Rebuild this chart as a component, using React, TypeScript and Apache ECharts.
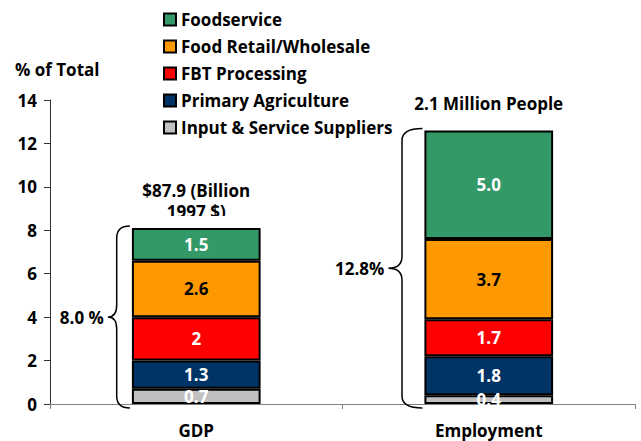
import React, { useEffect, useRef } from "react";
import * as echarts from "echarts";

const categories = ["GDP", "Employment"];
const inputSuppliers = [0.7, 0.4];
const primaryAgriculture = [1.3, 1.8];
const fbtProcessing = [2, 1.7];
const foodRetail = [2.6, 3.7];
const foodservice = [1.5, 5.0];

const inputLabels = ["0.7", "0.4"];
const primaryLabels = ["1.3", "1.8"];
const fbtLabels = ["2", "1.7"];
const retailLabels = ["2.6", "3.7"];
const foodserviceLabels = ["1.5", "5.0"];

const totalLabels = ["8.0 %", "12.8%"];
const notes = ["$87.9 (Billion\n1997 $)", "2.1 Million People"];
const yTicks = [0, 2, 4, 6, 8, 10, 12, 14];

const FONT = "'Open Sans', Lato, sans-serif";
const FS = 17;

echarts.graphic.registerShape(
  "brace",
  echarts.graphic.extendShape({
    shape: { x: 0, top: 0, bottom: 0, w: 20, r: 12 },
    buildPath(ctx: any, s: any) {
      const xr = s.x;
      const xm = s.x - s.w * 0.6;
      const tip = s.x - s.w;
      const mid = (s.top + s.bottom) / 2;
      const r = s.r;
      ctx.moveTo(xr, s.top);
      ctx.quadraticCurveTo(xm, s.top, xm, s.top + r);
      ctx.lineTo(xm, mid - r);
      ctx.quadraticCurveTo(xm, mid, tip, mid);
      ctx.quadraticCurveTo(xm, mid, xm, mid + r);
      ctx.lineTo(xm, s.bottom - r);
      ctx.quadraticCurveTo(xm, s.bottom, xr, s.bottom);
    },
  }) as any
);

function mkSeries(name: string, data: number[], labels: string[], color: string, labelColor: string) {
  return {
    name,
    type: "bar",
    stack: "total",
    data,
    barWidth: "44%",
    itemStyle: { color, borderColor: "#000", borderWidth: 2 },
    label: {
      show: true,
      position: "inside",
      color: labelColor,
      fontFamily: FONT,
      fontWeight: "bold",
      fontSize: 17,
      formatter: (p: any) => labels[p.dataIndex],
    },
  };
}

export default function App() {
  const ref = useRef<HTMLDivElement>(null);
  useEffect(() => {
    const chart = echarts.init(ref.current!, null, { renderer: "svg" });
    const option: any = {
      animation: false,
      backgroundColor: "#fff",
      textStyle: { fontFamily: FONT },
      grid: { left: 50, right: 6, top: 100, bottom: 37, containLabel: false },
      legend: {
        orient: "vertical",
        left: 158,
        top: 4,
        itemWidth: 12,
        itemHeight: 12,
        itemGap: 6,
        icon: "rect",
        data: [
          "Foodservice",
          "Food Retail/Wholesale",
          "FBT Processing",
          "Primary Agriculture",
          "Input & Service Suppliers",
        ],
        textStyle: { fontFamily: FONT, fontWeight: "bold", fontSize: FS, color: "#000", lineHeight: 21 },
        itemStyle: { borderColor: "#000", borderWidth: 2 },
        selectedMode: false,
      },
      xAxis: {
        type: "category",
        data: categories,
        axisLine: { lineStyle: { color: "#808080", width: 1 } },
        axisTick: { show: true, length: 5, lineStyle: { color: "#808080" } },
        axisLabel: {
          color: "#000",
          fontFamily: FONT,
          fontWeight: "bold",
          fontSize: FS,
          lineHeight: 18,
          margin: 17,
        },
      },
      yAxis: {
        type: "value",
        min: 0,
        max: 14,
        interval: 2,
        axisLine: { show: true, lineStyle: { color: "#333", width: 1 } },
        axisTick: { show: true, length: 6, lineStyle: { color: "#333" } },
        splitLine: { show: false },
        axisLabel: {
          color: "#000",
          fontFamily: FONT,
          fontWeight: "bold",
          fontSize: FS,
          margin: 13,
          formatter: (v: number) => (yTicks.indexOf(v) >= 0 ? String(v) : ""),
        },
      },
      series: [
        mkSeries("Input & Service Suppliers", inputSuppliers, inputLabels, "#C0C0C0", "#fff"),
        mkSeries("Primary Agriculture", primaryAgriculture, primaryLabels, "#003366", "#fff"),
        mkSeries("FBT Processing", fbtProcessing, fbtLabels, "#FF0000", "#fff"),
        mkSeries("Food Retail/Wholesale", foodRetail, retailLabels, "#FF9900", "#000"),
        mkSeries("Foodservice", foodservice, foodserviceLabels, "#339966", "#fff"),
      ],
    };
    chart.setOption(option);

    const c0 = chart.convertToPixel({ xAxisIndex: 0, yAxisIndex: 0 }, [0, 0]) as number[];
    const c1 = chart.convertToPixel({ xAxisIndex: 0, yAxisIndex: 0 }, [1, 0]) as number[];
    const band = c1[0] - c0[0];
    const barW = band * 0.44;
    const zeroY = c0[1];
    const noteGap = [6, 16];
    const braceW = [22, 34];
    const graphics: any[] = [
      {
        type: "text",
        left: 15,
        top: 61,
        style: { text: "% of Total", fontFamily: FONT, fontWeight: "bold", fontSize: FS, fill: "#000" },
      },
    ];
    categories.forEach((_, i) => {
      const total =
        inputSuppliers[i] + primaryAgriculture[i] + fbtProcessing[i] + foodRetail[i] + foodservice[i];
      const pt = chart.convertToPixel({ xAxisIndex: 0, yAxisIndex: 0 }, [i, total]) as number[];
      const barLeft = pt[0] - barW / 2;
      const xr = barLeft - 2;
      const top = pt[1] - 2;
      const bottom = zeroY + 4;
      graphics.push({
        type: "brace",
        shape: { x: xr, top, bottom, w: braceW[i], r: 12 },
        style: { stroke: "#000", fill: "none", lineWidth: 1.5 },
        z: 10,
      });
      graphics.push({
        type: "text",
        x: xr - braceW[i] - 4,
        y: (top + bottom) / 2,
        style: {
          text: totalLabels[i],
          fontFamily: FONT,
          fontWeight: "bold",
          fontSize: FS,
          fill: "#000",
          align: "right",
          verticalAlign: "middle",
        },
        z: 10,
      });
      graphics.push({
        type: "text",
        x: pt[0],
        y: pt[1] - noteGap[i],
        style: {
          text: notes[i],
          fontFamily: FONT,
          fontWeight: "bold",
          fontSize: FS,
          lineHeight: 21,
          fill: "#000",
          align: "center",
          verticalAlign: "bottom",
        },
        z: 10,
      });
      if (i === 0) {
        // the source text box clips the lower part of the note's second line
        graphics.push({
          type: "rect",
          shape: { x: pt[0] - 60, y: pt[1] - 12, width: 120, height: 9 },
          style: { fill: "#fff" },
          z: 11,
        });
      }
    });
    chart.setOption({ graphic: graphics });
    return () => chart.dispose();
  }, []);
  return <div ref={ref} style={{ width: 641, height: 441, position: "absolute", left: 0, top: 0 }} />;
}
